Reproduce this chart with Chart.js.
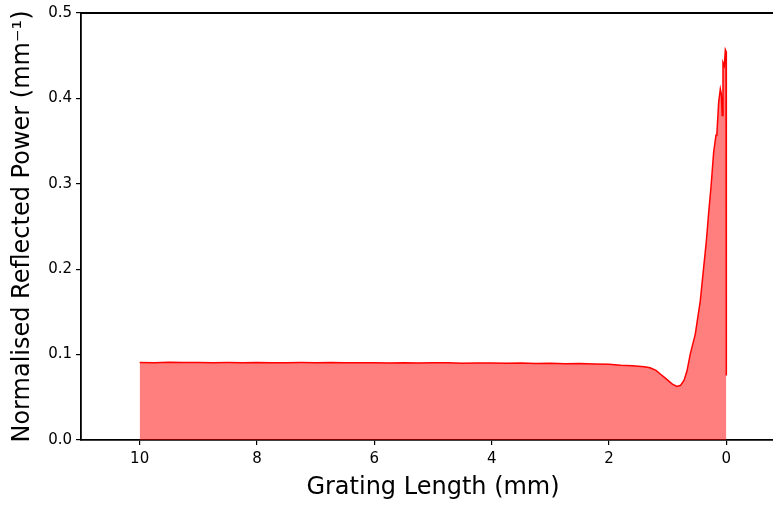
<!DOCTYPE html>
<html>
<head>
<meta charset="utf-8">
<title>Reflected power along grating</title>
<script src="https://cdn.jsdelivr.net/npm/chart.js@4.4.1/dist/chart.umd.min.js"></script>
<style>
  html, body { margin: 0; padding: 0; background: #fff; overflow: hidden; }
  #wrap { position: relative; width: 800px; height: 505px; }
</style>
</head>
<body>
<div id="wrap"><canvas id="power-chart"></canvas></div>
<script>
// Position along the grating (mm) and normalised reflected power (mm^-1)
const gratingPos = [
  10.0, 9.75, 9.5, 9.25, 9.0, 8.75, 8.5, 8.25, 8.0, 7.75, 7.5, 7.25, 7.0,
  6.75, 6.5, 6.25, 6.0, 5.75, 5.5, 5.25, 5.0, 4.75, 4.5, 4.25, 4.0, 3.75,
  3.5, 3.25, 3.0, 2.75, 2.5, 2.25, 2.0, 1.8, 1.6, 1.4, 1.3, 1.2, 1.12, 1.05,
  0.98, 0.92, 0.84, 0.78, 0.72, 0.67, 0.614, 0.529, 0.444, 0.387, 0.341,
  0.30, 0.261, 0.216, 0.176, 0.16, 0.131, 0.102, 0.085, 0.07, 0.057, 0.034,
  0.017, 0.005, 0.0
];
const reflectedPower = [
  0.0908, 0.0906, 0.0909, 0.0907, 0.0908, 0.0905, 0.0907, 0.0906, 0.0908,
  0.0904, 0.0906, 0.0907, 0.0905, 0.0907, 0.0904, 0.0906, 0.0905, 0.0903,
  0.0906, 0.0902, 0.0904, 0.0905, 0.0900, 0.0903, 0.0901, 0.0898, 0.0902,
  0.0896, 0.0899, 0.0893, 0.0895, 0.0890, 0.0888, 0.0876, 0.0870, 0.0858,
  0.0845, 0.0815, 0.0770, 0.0730, 0.0690, 0.0655, 0.0628, 0.0640, 0.0700,
  0.0810, 0.1008, 0.1240, 0.1630, 0.2016, 0.2326, 0.2670, 0.2965, 0.3370,
  0.3570, 0.3600, 0.3950, 0.4110, 0.4050, 0.3800, 0.4420, 0.4380, 0.4570,
  0.4550, 0.0756
];
const xTickValues = [10, 8, 6, 4, 2, 0];
const yTickValues = [0, 0.1, 0.2, 0.3, 0.4, 0.5];

const points = gratingPos.map((x, i) => ({ x: x, y: reflectedPower[i] }));

// draw the top and right spines like a boxed axes
const boxFrame = {
  id: 'boxFrame',
  afterDraw(chart) {
    const { ctx, chartArea: a } = chart;
    ctx.save();
    ctx.strokeStyle = '#000';
    ctx.lineWidth = 1.8;
    ctx.beginPath();
    ctx.moveTo(a.left, a.top);
    ctx.lineTo(a.right, a.top);
    ctx.lineTo(a.right, a.bottom);
    ctx.stroke();
    ctx.restore();
  }
};

const tickFont = { family: 'DejaVu Sans', size: 15 };
const titleFont = { family: 'DejaVu Sans', size: 24 };

new Chart(document.getElementById('power-chart'), {
  type: 'line',
  data: {
    datasets: [{
      data: points,
      borderColor: '#ff0000',
      borderWidth: 1.5,
      backgroundColor: 'rgba(255, 0, 0, 0.5)',
      fill: 'origin',
      pointRadius: 0,
      tension: 0
    }]
  },
  options: {
    responsive: true,
    maintainAspectRatio: false,
    animation: false,
    layout: { padding: { top: 10, right: 15, left: 0, bottom: 0 } },
    plugins: { legend: { display: false }, tooltip: { enabled: false } },
    scales: {
      x: {
        type: 'linear',
        reverse: true,
        min: -1,
        max: 11,
        afterBuildTicks: s => { s.ticks = xTickValues.map(v => ({ value: v })); },
        afterFit: s => { s.height = 65; },
        ticks: { color: '#000', font: tickFont, padding: 5, maxRotation: 0,
                 callback: v => String(v) },
        grid: { drawOnChartArea: false, drawTicks: true, tickLength: 5, color: '#000', lineWidth: 1.2 },
        border: { color: '#000', width: 1.8 },
        title: { display: true, text: 'Grating Length (mm)', color: '#000', font: titleFont,
                 padding: { top: 2, bottom: 3 } }
      },
      y: {
        min: 0,
        max: 0.5,
        afterBuildTicks: s => { s.ticks = yTickValues.map(v => ({ value: v })); },
        afterFit: s => { s.width = 81; },
        ticks: { color: '#000', font: tickFont, padding: 4,
                 callback: v => v.toFixed(1) },
        grid: { drawOnChartArea: false, drawTicks: true, tickLength: 5, color: '#000', lineWidth: 1.2 },
        border: { color: '#000', width: 1.8 },
        title: { display: true, text: 'Normalised Reflected Power (mm\u207B\u00B9)', color: '#000',
                 font: titleFont, padding: { top: 8, bottom: 0 } }
      }
    }
  },
  plugins: [boxFrame]
});
</script>
</body>
</html>
